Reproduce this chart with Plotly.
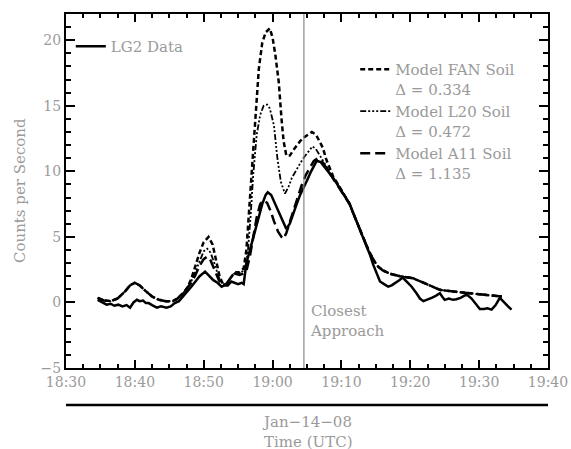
import pandas as pd
import plotly.graph_objects as go

# ---------------- data (times in minutes after 18:00 UTC, 2008-01-14) ----------------
lg2_min = [34.6, 35.2, 35.9, 36.5, 37.0, 37.6, 38.2, 38.8, 39.3, 39.8, 40.3, 40.7, 41.2, 41.6,
           42.0, 42.5, 43.2, 43.8, 44.6, 45.2, 45.8, 46.4, 47.0, 47.6, 48.2, 48.8, 49.4, 50.2,
           50.8, 51.4, 52.0, 52.6, 53.0, 53.5, 54.0, 54.5, 55.0, 55.5, 55.8, 56.2, 56.8, 57.4,
           57.9, 58.5, 59.0, 59.3, 59.8, 60.3, 60.8, 61.4, 62.0, 62.5, 63.0, 63.5, 64.0, 64.5,
           65.0, 65.6, 66.4, 67.0, 67.6, 68.2, 68.8, 69.4, 70.0, 70.6, 71.2, 71.8, 72.4, 73.0,
           73.6, 74.1, 74.6, 75.2, 75.6, 76.2, 76.8, 77.3, 77.9, 78.4, 78.9, 79.5, 80.2, 80.9,
           81.4, 81.9, 82.5, 83.1, 83.7, 84.3, 84.7, 85.0, 85.6, 86.2, 86.7, 87.3, 87.8, 88.2,
           88.9, 89.5, 90.1, 90.7, 91.2, 91.8, 92.4, 93.0, 93.6, 94.2, 94.7]
lg2_cps = [0.2, 0.0, -0.17, -0.1, -0.25, -0.17, -0.3, -0.2, -0.4, 0.0, 0.2, 0.1, 0.15, -0.05,
           -0.05, -0.2, -0.4, -0.3, -0.4, -0.3, -0.05, 0.1, 0.45, 0.8, 1.2, 1.6, 2.0, 2.35,
           2.0, 1.7, 1.5, 1.2, 1.3, 1.3, 1.6, 1.5, 1.4, 1.5, 1.4, 3.0, 4.2, 5.3,
           6.3, 7.5, 8.2, 8.4, 8.2, 7.6, 7.0, 6.2, 5.6, 6.0, 6.8, 7.5, 8.2, 8.7,
           9.3, 10.0, 10.8, 10.7, 10.3, 9.9, 9.5, 9.0, 8.5, 8.0, 7.5, 6.7, 5.9, 5.1,
           4.4, 3.7, 2.9, 2.1, 1.6, 1.4, 1.2, 1.3, 1.5, 1.7, 1.9, 1.6, 1.2, 0.7,
           0.3, 0.1, 0.2, 0.35, 0.5, 0.7, 0.4, 0.2, 0.3, 0.2, 0.25, 0.35, 0.5, 0.6,
           0.3, -0.1, -0.5, -0.5, -0.45, -0.55, -0.2, 0.35, 0.0, -0.3, -0.55]

fan_min = [34.6, 35.5, 36.5, 37.5, 38.5, 39.3, 40.0, 40.7, 41.5, 42.5, 43.5, 44.5, 45.5, 46.2,
           47.0, 47.6, 48.2, 48.8, 49.4, 50.0, 50.7, 51.3, 51.8, 52.3, 52.8, 53.3, 53.8, 54.5,
           55.2, 55.8, 56.2, 56.6, 57.0, 57.5, 58.0, 58.5, 59.0, 59.6, 60.0, 60.4, 60.9, 61.3,
           61.6, 62.0, 62.5, 63.0, 63.5, 64.0, 64.6, 65.2, 65.7, 66.3, 66.8, 67.3, 67.8, 68.3,
           68.8, 69.4, 70.0, 70.6, 71.2, 71.8, 72.4, 73.0, 73.6, 74.1, 74.7, 75.3, 76.0, 77.0,
           78.5, 80.4, 82.3, 84.3, 86.0, 88.2, 90.5, 93.3]
fan_cps = [0.35, 0.15, 0.1, 0.3, 0.8, 1.3, 1.5, 1.3, 0.9, 0.45, 0.2, 0.1, 0.1, 0.3,
           0.7, 1.1, 1.8, 2.8, 3.8, 4.6, 5.0, 4.4, 3.2, 2.0, 1.4, 1.4, 1.8, 2.3,
           2.3, 2.6, 4.0, 7.0, 10.5, 14.5, 17.8, 19.8, 20.6, 20.9, 20.2, 18.9, 16.8, 14.0,
           12.3, 11.2, 11.2, 11.6, 12.0, 12.3, 12.6, 12.8, 13.0, 12.8, 12.3, 11.8, 10.9, 10.2,
           9.6, 9.1, 8.6, 8.1, 7.5, 6.7, 5.9, 5.1, 4.4, 3.8, 3.2, 2.75, 2.45, 2.2,
           2.0, 1.85, 1.4, 0.96, 0.85, 0.71, 0.6, 0.45]

l20_min = [34.6, 35.5, 36.5, 37.5, 38.5, 39.3, 40.0, 40.7, 41.5, 42.5, 43.5, 44.5, 45.5, 46.2,
           47.0, 47.6, 48.2, 48.8, 49.4, 50.0, 50.5, 51.0, 51.6, 52.2, 52.8, 53.3, 53.8, 54.5,
           55.2, 55.7, 56.0, 56.4, 56.8, 57.2, 57.7, 58.2, 58.7, 59.2, 59.6, 60.2, 60.7, 61.2,
           61.8, 62.3, 62.8, 63.4, 64.0, 64.6, 65.2, 65.8, 66.3, 66.8, 67.3, 67.8, 68.3,
           68.8, 69.4, 70.0, 70.6, 71.2, 71.8, 72.4, 73.0, 73.6, 74.1, 74.7, 75.3, 76.0, 77.0,
           78.5, 80.4, 82.3, 84.3, 86.0, 88.2, 90.5, 93.3]
l20_cps = [0.35, 0.15, 0.1, 0.3, 0.8, 1.3, 1.5, 1.3, 0.9, 0.45, 0.2, 0.1, 0.1, 0.3,
           0.7, 1.1, 1.6, 2.4, 3.2, 3.9, 4.1, 3.8, 2.9, 1.9, 1.4, 1.4, 1.8, 2.2,
           2.2, 2.4, 2.6, 3.8, 6.5, 9.8, 12.8, 14.3, 15.0, 15.1, 14.8, 13.5, 11.0, 9.2,
           8.3, 8.8, 9.5, 10.1, 10.6, 11.1, 11.5, 11.9, 11.7, 11.3, 10.9, 10.4, 9.9,
           9.5, 9.0, 8.6, 8.1, 7.5, 6.7, 5.9, 5.1, 4.4, 3.8, 3.2, 2.75, 2.45, 2.2,
           2.0, 1.85, 1.4, 0.96, 0.85, 0.71, 0.6, 0.45]

a11_min = [34.6, 35.5, 36.5, 37.5, 38.5, 39.3, 40.0, 40.7, 41.5, 42.5, 43.5, 44.5, 45.5, 46.2,
           47.0, 47.6, 48.2, 48.8, 49.4, 50.0, 50.5, 51.0, 51.6, 52.2, 52.8, 53.3, 53.8, 54.5,
           55.2, 55.7, 56.2, 56.7, 57.2, 57.7, 58.2, 58.7, 59.2, 59.7, 60.2, 60.8, 61.3, 61.6,
           62.0, 62.5, 63.0, 63.6, 64.2, 64.8, 65.4, 66.0, 66.6, 67.0, 67.5, 68.0,
           68.8, 69.4, 70.0, 70.6, 71.2, 71.8, 72.4, 73.0, 73.6, 74.1, 74.7, 75.3, 76.0, 77.0,
           78.5, 80.4, 82.3, 84.3, 86.0, 88.2, 90.5, 93.3]
a11_cps = [0.35, 0.15, 0.1, 0.3, 0.8, 1.3, 1.5, 1.3, 0.9, 0.45, 0.2, 0.1, 0.1, 0.3,
           0.7, 1.1, 1.5, 2.1, 2.8, 3.3, 3.5, 3.2, 2.5, 1.7, 1.3, 1.4, 1.8, 2.2,
           2.1, 2.2, 2.4, 3.5, 5.0, 6.5, 7.5, 7.8, 7.6, 7.0, 6.2, 5.4, 5.0, 4.85,
           5.3, 6.1, 7.0, 8.0, 8.9, 9.7, 10.3, 10.8, 11.0, 10.9, 10.5, 10.1,
           9.5, 9.0, 8.5, 8.0, 7.5, 6.7, 5.9, 5.1, 4.4, 3.8, 3.2, 2.75, 2.45, 2.2,
           2.0, 1.85, 1.4, 0.96, 0.85, 0.71, 0.6, 0.45]

closest_approach_min = 64.55
x_tick_vals = ["18:30", "18:40", "18:50", "19:00", "19:10", "19:20", "19:30", "19:40"]
date_label = "Jan\u221214\u221208"

# ---------------- build ----------------
base = pd.Timestamp("2008-01-14 18:00:00")
def tt(mins):
    return [base + pd.Timedelta(minutes=m) for m in mins]

GRAY = "#9a9a9a"
FONT = "DejaVu Serif"

fig = go.Figure()
fig.add_trace(go.Scatter(x=tt(lg2_min), y=lg2_cps, mode="lines", name="LG2 Data",
                         line=dict(color="black", width=2.5), legend="legend", showlegend=True))
fig.add_trace(go.Scatter(x=tt(fan_min), y=fan_cps, mode="lines",
                         name="Model FAN Soil<br>\u0394 = 0.334",
                         line=dict(color="black", width=2.5, dash="5px,3px"), legend="legend2"))
fig.add_trace(go.Scatter(x=tt(l20_min), y=l20_cps, mode="lines",
                         name="Model L20 Soil<br>\u0394 = 0.472",
                         line=dict(color="black", width=1.8, dash="6px,2px,2px,2px,2px,2px,2px,2px"),
                         legend="legend2"))
fig.add_trace(go.Scatter(x=tt(a11_min), y=a11_cps, mode="lines",
                         name="Model A11 Soil<br>\u0394 = 1.135",
                         line=dict(color="black", width=2.5, dash="10px,5px"), legend="legend2"))

ca = base + pd.Timedelta(minutes=closest_approach_min)
fig.add_shape(type="line", x0=ca, x1=ca, y0=0, y1=1, xref="x", yref="paper",
              line=dict(color="#888888", width=1.2))
fig.add_shape(type="line", x0=0, x1=1, y0=-0.1045, y1=-0.1045, xref="paper", yref="paper",
              line=dict(color="black", width=2.5))

fig.add_annotation(x=ca, y=-1.4, xref="x", yref="y", xshift=4, xanchor="left", yanchor="middle",
                   align="left", text="Closest<br>Approach", showarrow=False,
                   font=dict(family=FONT, size=15, color=GRAY))
fig.add_annotation(x=-0.0954, y=0.5, xref="paper", yref="paper", textangle=-90,
                   text="Counts per Second", showarrow=False, xanchor="center", yanchor="middle",
                   font=dict(family=FONT, size=15, color=GRAY))
fig.add_annotation(x=0.4025, y=-0.182, xref="paper", yref="paper", xanchor="left", yanchor="middle",
                   align="left", text=date_label + "<br>Time (UTC)", showarrow=False,
                   font=dict(family=FONT, size=15, color=GRAY))

tickv = [pd.Timestamp("2008-01-14 " + s) for s in x_tick_vals]
fig.update_layout(
    width=571, height=449,
    margin=dict(l=66, r=23, t=14, b=81, autoexpand=False),
    paper_bgcolor="white", plot_bgcolor="white",
    showlegend=True,
    font=dict(family=FONT, size=14, color=GRAY),
    legend=dict(x=0.01, y=0.955, xanchor="left", yanchor="top", bgcolor="rgba(0,0,0,0)",
                font=dict(family=FONT, size=15, color=GRAY), itemwidth=30),
    legend2=dict(x=0.6, y=0.89, xanchor="left", yanchor="top", bgcolor="rgba(0,0,0,0)",
                 font=dict(family=FONT, size=15, color=GRAY), itemwidth=30, valign="top",
                 tracegroupgap=4),
    xaxis=dict(type="date", range=[tickv[0], tickv[-1]], tickvals=tickv, ticktext=x_tick_vals,
               automargin=False,
               showgrid=False, zeroline=False, showline=True, linecolor="black", linewidth=2,
               mirror="ticks", ticks="inside", ticklen=8, tickwidth=2, tickcolor="black",
               tickfont=dict(family=FONT, size=14, color=GRAY),
               minor=dict(dtick=150000, ticks="inside", ticklen=4, tickwidth=2, tickcolor="black",
                          showgrid=False, tick0=tickv[0])),
    yaxis=dict(range=[-5, 22], tickvals=[-5, 0, 5, 10, 15, 20], ticktext=["\u22125", "0", "5", "10", "15", "20"],
               automargin=False,
               showgrid=False, zeroline=False, showline=True, linecolor="black", linewidth=2,
               mirror="ticks", ticks="inside", ticklen=9, tickwidth=2, tickcolor="black",
               tickfont=dict(family=FONT, size=14, color=GRAY),
               minor=dict(dtick=1, tick0=0, ticks="inside", ticklen=5, tickwidth=2, tickcolor="black",
                          showgrid=False)),
)

fig.write_html("out.html", config={"displayModeBar": False},
               post_script="document.body.style.margin='0';document.body.style.overflow='hidden';")
